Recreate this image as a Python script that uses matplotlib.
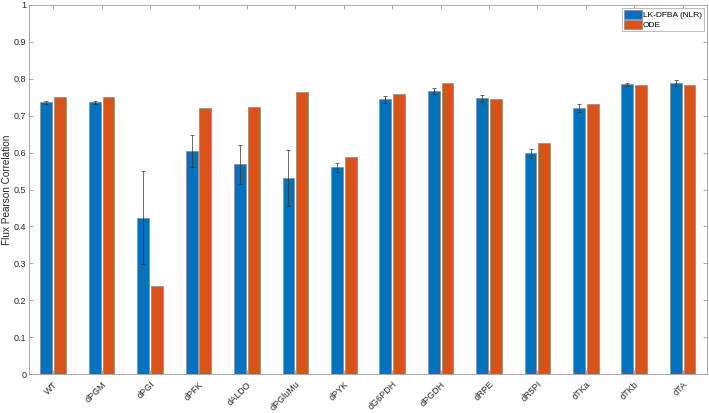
import numpy as np
import matplotlib.pyplot as plt

plt.rcParams['font.family'] = ['Liberation Sans', 'DejaVu Sans']

# Data
strains = ['WT', 'dPGM', 'dPGI', 'dPFK', 'dALDO', 'dPGluMu', 'dPYK',
           'dG6PDH', 'dPGDH', 'dRPE', 'dR5PI', 'dTKa', 'dTKb', 'dTA']
lk_dfba = [0.736, 0.736, 0.424, 0.605, 0.568, 0.531, 0.560,
           0.744, 0.767, 0.747, 0.598, 0.721, 0.785, 0.789]
lk_err = [0.005, 0.005, 0.125, 0.043, 0.054, 0.075, 0.012,
          0.010, 0.009, 0.010, 0.013, 0.011, 0.004, 0.008]
ode = [0.752, 0.751, 0.238, 0.722, 0.724, 0.764, 0.587,
       0.760, 0.789, 0.745, 0.627, 0.731, 0.784, 0.784]

blue = '#0072BD'
orange = '#D95319'
axis_col = '#9a9a9a'

x = np.arange(1, len(strains) + 1)
w = 0.245
off = 0.142

fig = plt.figure(figsize=(7.09, 4.13), dpi=100)
ax = fig.add_axes([0.041, 0.094, 0.956, 0.894])

ax.bar(x - off, lk_dfba, w, color=blue, edgecolor='#8c8c8c', linewidth=0.5,
       label='LK-DFBA (NLR)', zorder=2)
ax.bar(x + off, ode, w, color=orange, edgecolor='#8c8c8c', linewidth=0.5,
       label='ODE', zorder=2)
ax.errorbar(x - off, lk_dfba, yerr=lk_err, fmt='none', ecolor='#303030',
            elinewidth=0.5, capsize=1.5, capthick=0.5, zorder=3)

ax.set_xlim(0.5, len(strains) + 0.5)
ax.set_ylim(0, 1)
ax.set_yticks(np.arange(0, 1.01, 0.1))
ax.set_yticklabels(['0'] + [f'{v:.1f}' for v in np.arange(0.1, 0.95, 0.1)] + ['1'])
ax.set_xticks(x)
ax.set_xticklabels(strains, rotation=45, ha='right', rotation_mode='anchor')
ax.tick_params(axis='both', direction='in', length=3, width=0.6, color=axis_col,
               labelsize=6.5, labelcolor='#262626', top=True, right=True, pad=2)
ax.tick_params(axis='x', pad=4)
for s in ax.spines.values():
    s.set_color(axis_col)
    s.set_linewidth(0.6)

ax.set_ylabel('Flux Pearson Correlation', fontsize=7.2, color='#262626', va='center')
ax.yaxis.set_label_coords(-0.033, 0.5)

leg = ax.legend(loc='upper right', fontsize=6, frameon=True, fancybox=False,
                edgecolor='#a0a0a0', handlelength=2.2, handleheight=1.3,
                handletextpad=0.1, borderpad=0.2, labelspacing=0.1,
                borderaxespad=0.4)
leg.get_frame().set_linewidth(0.6)

fig.savefig('out.png', dpi=100)
